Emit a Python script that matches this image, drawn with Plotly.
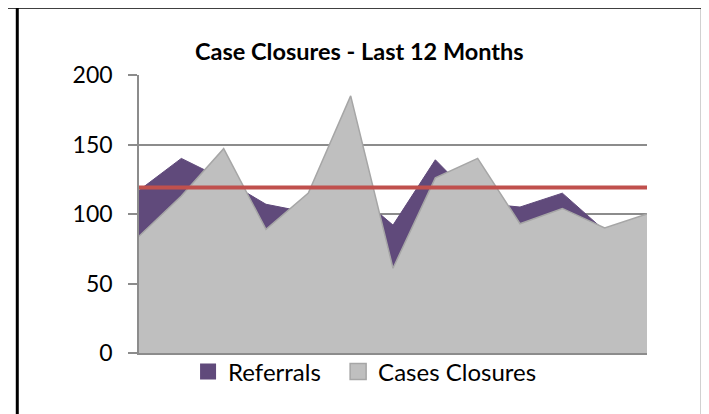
import plotly.graph_objects as go

# Data (13 monthly points, no category labels shown)
periods = list(range(13))
referrals = [117, 140, 125, 107, 101, 118, 92, 139, 108, 105, 115, 88, 96]
case_closures = [84, 113, 147, 89, 115, 185, 61, 126, 140, 93, 104, 90, 100]
target = 119
y_ticks = [0, 50, 100, 150, 200]

PURPLE = "#604A7B"
GREY_FILL = "#BFBFBF"
GREY_LINE = "#A6A6A6"
RED = "#C0504D"
AXIS_GREY = "#8C8C8C"
FONT = "Lato"

fig = go.Figure()

# Referrals area (drawn first, sits behind)
fig.add_trace(go.Scatter(
    x=periods, y=referrals, mode="lines", fill="tozeroy",
    fillcolor=PURPLE, line=dict(color=PURPLE, width=1),
    showlegend=False, hoverinfo="skip"
))

# Case closures area on top
fig.add_trace(go.Scatter(
    x=periods, y=case_closures, mode="lines", fill="tozeroy",
    fillcolor=GREY_FILL, line=dict(color=GREY_LINE, width=1.5),
    showlegend=False, hoverinfo="skip"
))

# Legend entries with square swatches (nbsp pads the gap between items)
fig.add_trace(go.Scatter(
    x=[None], y=[None], mode="markers", name="Referrals\u00a0\u00a0",
    marker=dict(symbol="square", size=16, color=PURPLE)
))
fig.add_trace(go.Scatter(
    x=[None], y=[None], mode="markers", name="Cases Closures",
    marker=dict(symbol="square", size=16, color=GREY_FILL,
                line=dict(color=GREY_LINE, width=1.5))
))

# Target line
fig.add_hline(y=target, line=dict(color=RED, width=4), layer="above")

# Outer frame (table cell border look)
frame = dict(type="line", xref="paper", yref="paper",
             line=dict(color="black", width=3))
fig.add_shape(frame, x0=-0.2736, x1=1.1102, y0=1.2435, y1=1.2435)
fig.add_shape(frame, x0=-0.2396, x1=-0.2396, y0=1.2435, y1=-0.25)
fig.add_shape(frame, x0=1.1089, x1=1.1089, y0=1.2435, y1=-0.25)

fig.add_annotation(
    text="<b>Case Closures - Last 12 Months</b>",
    xref="paper", yref="paper", x=0.435, y=1.087,
    xanchor="center", yanchor="middle", showarrow=False,
    font=dict(family=FONT, size=23.5, color="black")
)

fig.update_layout(
    width=709, height=414,
    margin=dict(l=131, r=70, t=67, b=69),
    paper_bgcolor="white", plot_bgcolor="white",
    font=dict(family=FONT, color="black"),
    showlegend=True,
    legend=dict(
        orientation="h", x=0.445, y=-0.068,
        xanchor="center", yanchor="middle",
        font=dict(family=FONT, size=24, color="black"),
        itemwidth=30, bgcolor="rgba(0,0,0,0)"
    ),
    xaxis=dict(
        range=[0, 12], showgrid=False, zeroline=False,
        showticklabels=False, ticks="",
        showline=True, linecolor=AXIS_GREY, linewidth=1.5
    ),
    yaxis=dict(
        range=[0, 200], tickvals=y_ticks,
        showgrid=True, gridcolor=AXIS_GREY, gridwidth=1.5,
        zeroline=False, showline=True, linecolor=AXIS_GREY, linewidth=1.5,
        ticks="outside", ticklen=9, tickcolor=AXIS_GREY, tickwidth=1.5,
        ticklabelstandoff=11,
        tickfont=dict(family=FONT, size=23, color="black")
    )
)

fig.write_html("out.html")
